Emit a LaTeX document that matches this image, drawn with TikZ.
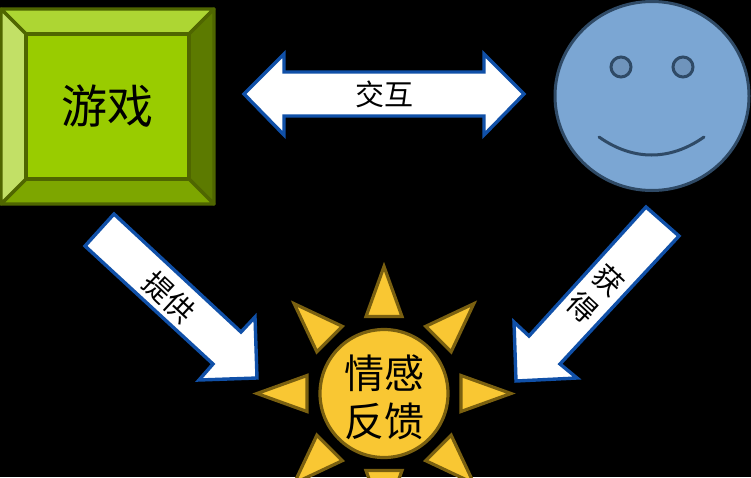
\documentclass[tikz,border=0pt]{standalone}
\usepackage{fontspec}
\setmainfont{Noto Sans CJK SC}
\usetikzlibrary{positioning}
\definecolor{gameface}{HTML}{99CC00}
\definecolor{gametop}{HTML}{ADD633}
\definecolor{gameleft}{HTML}{C2E066}
\definecolor{gameright}{HTML}{5C7A00}
\definecolor{gamebottom}{HTML}{7DA600}
\definecolor{gameline}{HTML}{4F6600}
\definecolor{arrowline}{HTML}{1050A8}
\definecolor{faceblue}{HTML}{7BA6D3}
\definecolor{eyeblue}{HTML}{6F94BC}
\definecolor{faceline}{HTML}{2F4A66}
\definecolor{sunfill}{HTML}{F9C733}
\definecolor{sunline}{HTML}{7A6010}
\tikzset{
  bevel/.style={draw=gameline,line width=3.2pt,line join=round},
  block/.style={draw=arrowline,fill=white,line width=3.4pt,line join=miter},
  ray/.style={draw=sunline,fill=sunfill,line width=3.2pt,line join=miter},
  face/.style={draw=faceline,line width=3pt},
  biglabel/.style={inner sep=0pt,font=\fontsize{46}{48}\selectfont},
  sunlabel/.style={inner sep=0pt,align=center,font=\fontsize{40}{48}\selectfont},
  smalllabel/.style={inner sep=0pt,align=center,font=\fontsize{29}{37}\selectfont}
}
\begin{document}
\begin{tikzpicture}[x=1pt,y=-1pt]
   \useasboundingbox (0,0) rectangle (751,477);
   \clip (0,0) rectangle (751,477);
   \fill[black] (0,0) rectangle (751,477);

   \draw[bevel,fill=gametop] (1,9) -- (214,9) -- (189,34) -- (26,34) -- cycle;
   \draw[bevel,fill=gameright] (214,9) -- (214,204) -- (189,179) -- (189,34) -- cycle;
   \draw[bevel,fill=gamebottom] (214,204) -- (1,204) -- (26,179) -- (189,179) -- cycle;
   \draw[bevel,fill=gameleft] (1,204) -- (1,9) -- (26,34) -- (26,179) -- cycle;
   \draw[bevel,fill=gameface] (26,34) rectangle (189,179);
   \node[biglabel] (game) at (107,106) {游戏};

   \draw[block] (244,94) -- (284,54) -- (284,72) -- (484,72) -- (484,54) -- (524,94)
     -- (484,135) -- (484,116) -- (284,116) -- (284,135) -- cycle;
   \node[smalllabel] (mutual) at (384,94) {交互};

   \draw[face,fill=faceblue] (652,96) ellipse [x radius=97,y radius=94.5];
   \draw[face,fill=eyeblue] (621,67) circle (10);
   \draw[face,fill=eyeblue] (683,67) circle (10);
   \draw[face,line cap=round] (599,137) .. controls (633,161) and (670,161) .. (704,137);

   \draw[block] (114,214) -- (85,246) -- (213,364) -- (199,380) -- (257,378)
     -- (255,317) -- (241,332) -- cycle;
   \node[smalllabel,rotate=-43] (give) at (169,297) {提供};

   \draw[block] (646,207) -- (679,236) -- (560,364) -- (577,378) -- (516,381)
     -- (514,322) -- (529,336) -- cycle;
   \node[smalllabel,rotate=-43] (gain) at (595.5,293.5) {获\\得};

   \foreach \a in {0,45,...,315}
     \draw[ray,shift={(384,393.5)},rotate=\a] (127,0) -- (77,18) -- (77,-18) -- cycle;
   \draw[ray] (384,393.5) circle (64);
   \node[sunlabel] (emotion) at (384,397) {情感\\反馈};
\end{tikzpicture}
\end{document}
